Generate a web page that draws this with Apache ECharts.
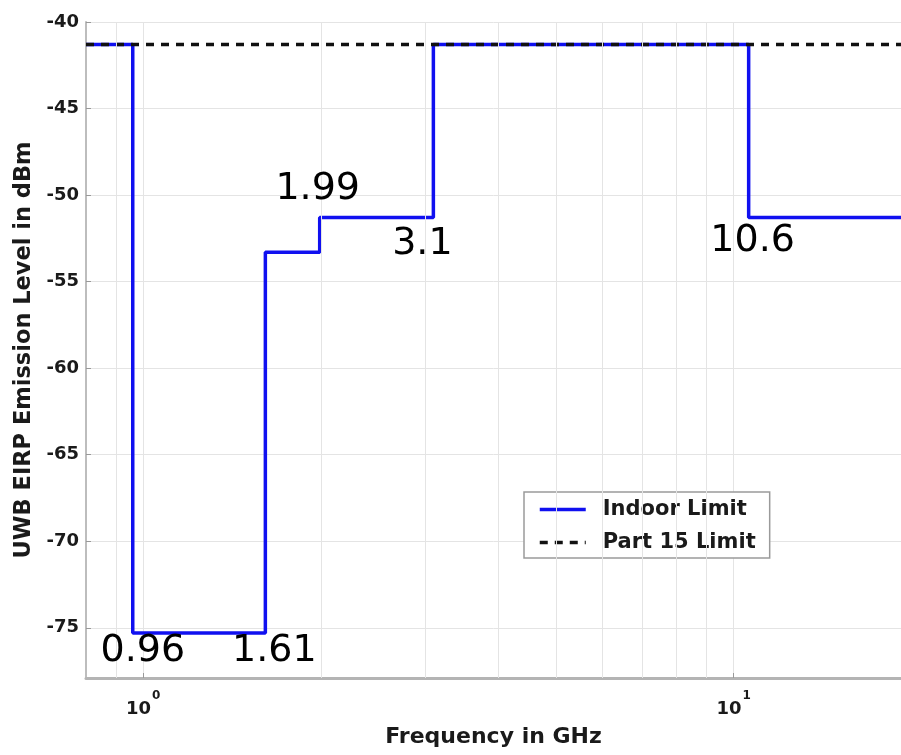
<!DOCTYPE html>
<html>
<head>
<meta charset="utf-8">
<script src="https://cdn.jsdelivr.net/npm/echarts@6/dist/echarts.min.js"></script>
<style>html,body{margin:0;padding:0;background:#fff}#c{width:901px;height:755px}</style>
</head>
<body>
<div id="c"></div>
<script>
// Band edges (GHz) and indoor UWB emission limit levels (dBm), step at each edge
const bandEdges = [0.8, 0.96, 1.61, 1.99, 3.1, 10.6, 20];
const indoorLevels = [-41.3, -75.3, -53.3, -51.3, -41.3, -51.3, -51.3];
// Part 15 limit
const part15Freqs = [0.8, 20];
const part15Levels = [-41.3, -41.3];
// Annotated breakpoints (frequency, level at the annotated corner)
const annotFreqs = [0.96, 1.61, 1.99, 3.1, 10.6];
const annotLevels = [-75.3, -75.3, -51.3, -51.3, -51.3];
const annotOffsets = [[10, 18], [9, 18], [-2, -28], [-11, 27], [4, 24]];
// Minor log grid frequencies
const minorGridFreqs = [0.9, 2, 3, 4, 5, 6, 7, 8, 9];
const yTicks = [-40, -45, -50, -55, -60, -65, -70, -75];

const chart = echarts.init(document.getElementById('c'), null, {renderer: 'canvas'});
const FONT = 'DejaVu Sans';
const gridColor = '#e4e4e4';

const option = {
  backgroundColor: '#fff',
  animation: false,
  grid: {left: 86, top: 22, right: 0, bottom: 77, containLabel: false},
  legend: {
    orient: 'vertical', left: 524, top: 492,
    padding: [7, 14, 5, 14], itemGap: 12, itemWidth: 46, itemHeight: 20,
    backgroundColor: '#fff', borderColor: '#9a9a9a', borderWidth: 1.5,
    itemStyle: {opacity: 0},
    lineStyle: {width: 3.5},
    textStyle: {fontFamily: FONT, fontWeight: 'bold', fontSize: 21, color: '#1a1a1a', padding: [0, 0, 0, 12]},
    data: ['Indoor Limit', 'Part 15 Limit']
  },
  xAxis: {
    type: 'log', logBase: 10, min: 0.8, max: 19.2,
    name: 'Frequency in GHz', nameLocation: 'middle', nameGap: 48,
    nameTextStyle: {fontFamily: FONT, fontWeight: 'bold', fontSize: 22, color: '#1a1a1a'},
    axisLine: {show: true, lineStyle: {color: '#b4b4b4', width: 3}},
    axisTick: {show: true, inside: true, length: 5, lineStyle: {color: '#999'}},
    splitLine: {show: true, lineStyle: {color: gridColor, width: 1}},
    axisLabel: {
      margin: 12, showMinLabel: false, showMaxLabel: false,
      formatter: function (v) {
        const e = Math.log10(v);
        if (Math.abs(e - Math.round(e)) < 1e-6) return '{b|10}{s|' + Math.round(e) + '}';
        return '';
      },
      rich: {
        b: {fontFamily: FONT, fontWeight: 'bold', fontSize: 18, color: '#1a1a1a', lineHeight: 28, verticalAlign: 'bottom'},
        s: {fontFamily: FONT, fontWeight: 'bold', fontSize: 12, color: '#1a1a1a', lineHeight: 28, verticalAlign: 'top', padding: [0, 0, 0, 1]}
      }
    }
  },
  yAxis: {
    type: 'value', min: -77.9, max: -40, splitNumber: 8,
    name: 'UWB EIRP Emission Level in dBm', nameLocation: 'middle', nameGap: 49, nameRotate: 90,
    nameTextStyle: {fontFamily: FONT, fontWeight: 'bold', fontSize: 22.5, color: '#1a1a1a'},
    axisLine: {show: true, lineStyle: {color: '#bdbdbd', width: 2}},
    axisTick: {show: true, inside: true, length: 5, lineStyle: {color: '#999'}},
    splitLine: {show: true, lineStyle: {color: gridColor, width: 1}},
    axisLabel: {
      margin: 7, showMinLabel: false, fontFamily: FONT, fontWeight: 'bold', fontSize: 18, color: '#1a1a1a',
      formatter: function (v) { return yTicks.indexOf(Math.round(v * 10) / 10) >= 0 ? String(v) : ''; }
    }
  },
  series: [
    {
      name: 'minor-grid', type: 'line', data: [], silent: true,
      markLine: {
        silent: true, symbol: 'none', label: {show: false},
        lineStyle: {color: gridColor, width: 1, type: 'solid'},
        data: minorGridFreqs.map(f => ({xAxis: f}))
      }
    },
    {
      name: 'Indoor Limit', type: 'line', step: 'end', symbol: 'none', z: 3,
      lineStyle: {color: '#1010f0', width: 3.5},
      itemStyle: {color: '#1010f0'},
      data: bandEdges.map((f, i) => [f, indoorLevels[i]])
    },
    {
      name: 'Part 15 Limit', type: 'line', symbol: 'none', z: 4,
      lineStyle: {color: '#111', width: 3.5, type: [8, 7]},
      itemStyle: {color: '#111'},
      data: part15Freqs.map((f, i) => [f, part15Levels[i]])
    },
    {
      name: 'annotations', type: 'scatter', symbolSize: 1, z: 5, silent: true,
      itemStyle: {color: 'transparent', opacity: 1},
      data: annotFreqs.map((f, i) => ({
        value: [f, annotLevels[i]],
        label: {offset: annotOffsets[i]}
      })),
      label: {
        show: true, position: 'inside', opacity: 1,
        fontFamily: FONT, fontSize: 38, color: '#000',
        formatter: function (p) { return String(p.value[0]); }
      }
    }
  ]
};
chart.setOption(option);
</script>
</body>
</html>
